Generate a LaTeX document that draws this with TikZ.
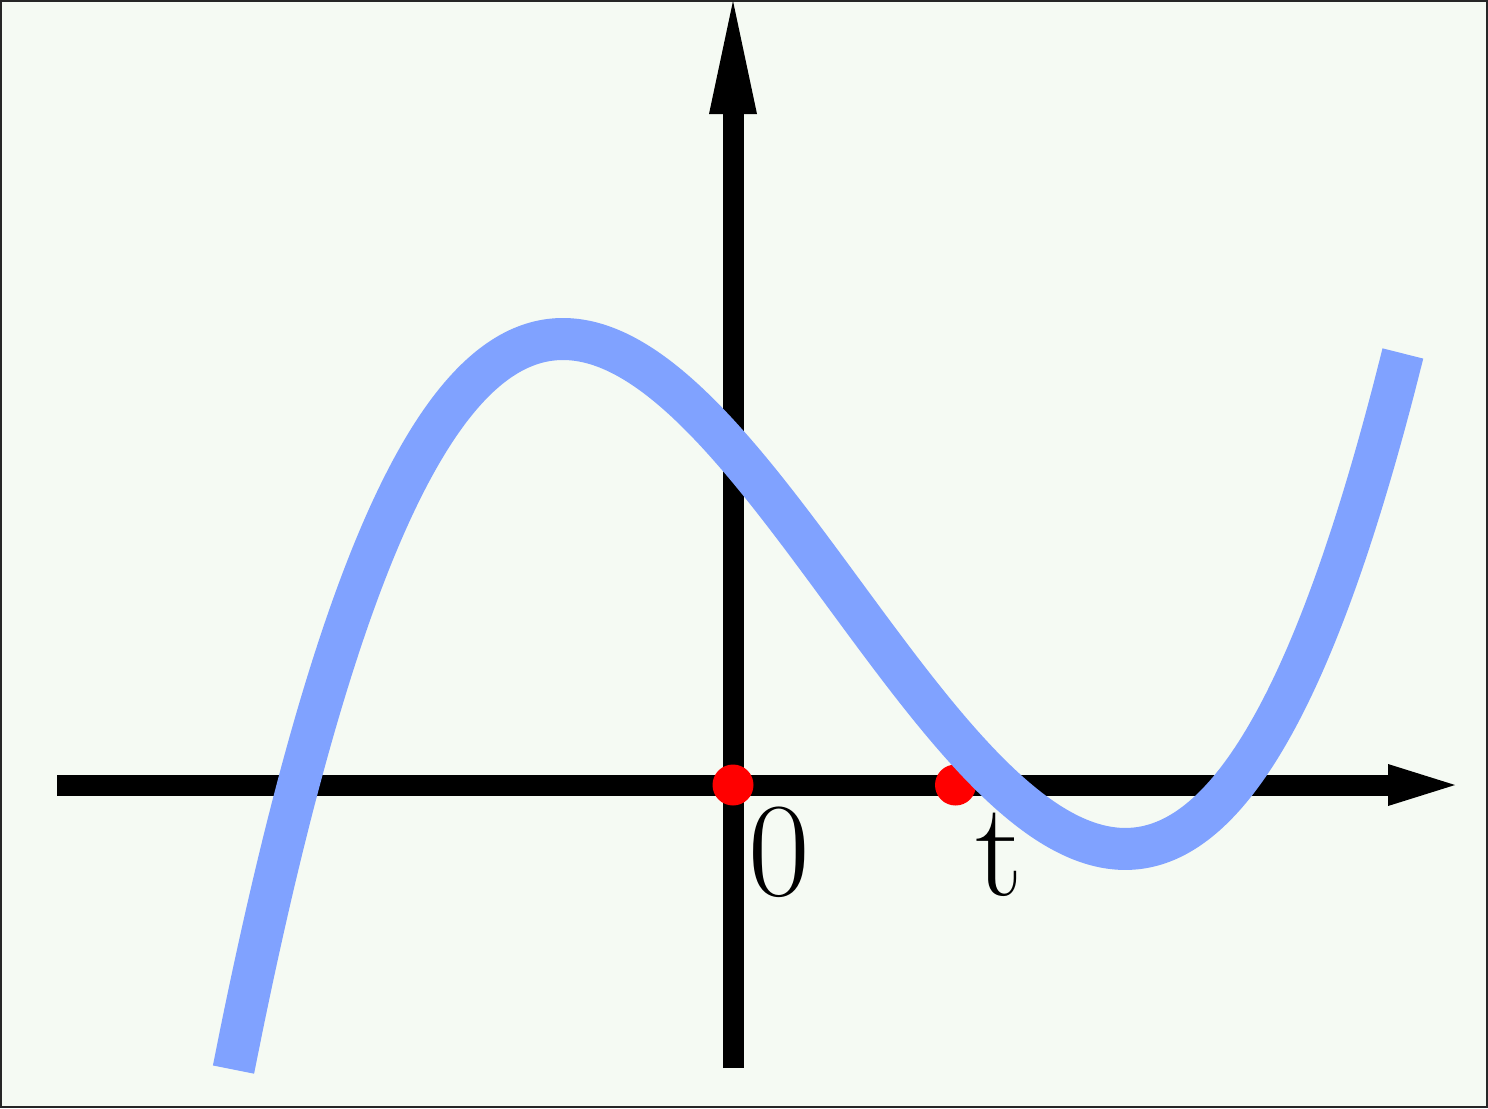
\documentclass[tikz,border=0pt]{standalone}
\usepackage{xcolor}
\usepackage{tikz}
\usetikzlibrary{arrows.meta,positioning}
\definecolor{bgpaper}{HTML}{F5FAF3}
\definecolor{curveblue}{HTML}{80A2FF}
\definecolor{dotred}{HTML}{FF0000}

\begin{document}
\begin{tikzpicture}[
  x=1pt,
  y=-1pt,
  axisline/.style={line width=21pt, line cap=butt},
  graphline/.style={color=curveblue, line width=42pt, line cap=butt},
  rootdot/.style={circle, fill=dotred, minimum size=41pt, inner sep=0pt},
  ticklabel/.style={anchor=base west, inner sep=0pt, font=\fontsize{134}{134}\selectfont}
]
\useasboundingbox (0,0) rectangle (1488,1108);
\fill[bgpaper] (0,0) rectangle (1488,1108);
\draw[black!85, line width=2pt] (1,1) rectangle (1487,1107);

% axes
\coordinate (xstart) at (57,785);
\coordinate (xend) at (1455,785);
\coordinate (ystart) at (733,1068);
\coordinate (yend) at (733,1);
\draw[axisline, -{Triangle[length=67pt, width=42pt, line width=0pt]}] (xstart) -- (xend);
\draw[axisline, -{Triangle[length=113pt, width=48pt, line width=0pt]}] (ystart) -- (yend);

% marked points
\node[rootdot] (origin) at (733,785) {};
\node[rootdot] (tpoint) at (955.5,785) {};
\node[ticklabel] (zerolabel) at (748,895) {0};
\node[ticklabel] (tlabel) at (975,895) {t};

% the cubic
\draw[graphline] plot[domain=-3.295:8.4, samples=120, smooth]
  ({563+100*\x}, {785-446-17.21*(\x*\x*\x/3-2.8115*\x*\x)});
\end{tikzpicture}
\end{document}
